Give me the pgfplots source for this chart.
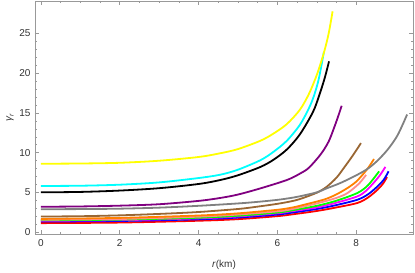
\documentclass[border=0pt]{standalone}
\usepackage{pgfplots}
\pgfplotsset{compat=1.18}
\usepackage{fontspec}
\setmainfont{Liberation Sans}
\definecolor{fr}{gray}{0.6}
\definecolor{tl}{gray}{0.2}
\definecolor{mypurple}{rgb}{0.5,0,0.5}
\definecolor{mybrown}{rgb}{0.6,0.4,0.2}
\definecolor{myorange}{rgb}{1,0.5,0}
\definecolor{mypink}{rgb}{1,0.55,0.55}
\definecolor{mygray}{gray}{0.5}
\definecolor{mycyan}{rgb}{0,1,1}
\definecolor{myyellow}{rgb}{1,1,0}
\definecolor{mygreen}{rgb}{0,1,0}
\definecolor{mymagenta}{rgb}{1,0,1}
\definecolor{myblue}{rgb}{0,0,1}
\definecolor{myred}{rgb}{1,0,0}
\begin{document}
\begin{tikzpicture}
\begin{axis}[
  at={(0pt,0pt)}, anchor=south west,
  scale only axis, width=378pt, height=233pt,
  xmin=-0.15, xmax=9.44, ymin=-0.25, ymax=29.1,
  axis line style={fr, line width=0.6pt},
  tick align=inside,
  major tick length=4pt, minor tick length=2.4pt,
  every tick/.style={fr, line width=0.5pt},
  xtick={0,2,4,6,8}, minor x tick num=3,
  ytick={0,5,10,15,20,25}, minor y tick num=4,
  /pgf/number format/assume math mode=true,
  tick label style={font=\fontsize{10}{12}\selectfont, text=tl},
  xticklabel style={yshift=-2pt},
  yticklabel style={xshift=-1pt},
  xlabel={\textit{r}(km)},
  ylabel={\textit{γ}\raisebox{-0.35ex}{\scriptsize\textit{r}}},
  label style={font=\fontsize{10}{12}\selectfont, text=tl},
  xlabel style={at={(axis description cs:0.5,-0.133)}, anchor=center},
  ylabel style={at={(axis description cs:-0.066,0.5)}, anchor=center},
  every axis plot/.append style={line width=1.8pt, smooth, no markers},
]
\addplot[myred] coordinates {(0,1.12)(2,1.19)(4,1.42)(5,1.62)(6,2.0)(6.34,2.2)(7,2.65)(7.5,3.1)(8.03,3.66)(8.3,4.35)(8.54,5.33)(8.68,6.1)(8.78,6.92)};
\addplot[myblue] coordinates {(0,1.32)(2,1.39)(4,1.6)(5,1.82)(6,2.2)(6.34,2.42)(7,2.9)(7.5,3.4)(8.03,4.07)(8.3,4.75)(8.54,5.75)(8.7,6.6)(8.82,7.64)};
\addplot[mymagenta] coordinates {(0,1.42)(2,1.49)(4,1.72)(5,1.96)(6,2.36)(6.34,2.6)(7,3.1)(7.5,3.7)(8.03,4.49)(8.25,5.2)(8.46,6.3)(8.6,7.15)(8.74,8.2)};
\addplot[mygreen] coordinates {(0,1.48)(2,1.56)(4,1.8)(5,2.05)(6,2.45)(6.34,2.7)(7,3.3)(7.5,3.95)(8.03,4.92)(8.3,5.9)(8.58,7.64)};
\addplot[mypink] coordinates {(0,1.55)(2,1.64)(4,1.93)(5,2.2)(6,2.6)(6.34,2.85)(7,3.6)(7.5,4.3)(7.78,4.92)(8.07,6.1)(8.25,7.2)};
\addplot[myorange] coordinates {(0,1.65)(2,1.78)(4,2.08)(5,2.35)(6,2.8)(6.34,3.05)(6.57,3.3)(7.19,4.1)(7.5,4.75)(7.78,5.55)(8.0,6.35)(8.2,7.44)(8.32,8.2)(8.45,9.2)};
\addplot[mybrown] coordinates {(0,1.95)(1,1.99)(2,2.1)(3,2.28)(4,2.52)(5,2.9)(5.5,3.2)(6,3.55)(6.34,3.86)(6.57,4.15)(7.0,4.95)(7.25,5.7)(7.5,6.85)(7.69,8.1)(7.9,9.55)(8.12,11.2)};
\addplot[mygray] coordinates {(0,2.87)(1,2.89)(2,2.94)(3,3.07)(4,3.3)(5,3.6)(5.5,3.8)(6,4.05)(6.34,4.29)(6.57,4.5)(7.0,5.0)(7.25,5.5)(7.61,6.2)(8.03,7.22)(8.3,8.0)(8.54,9.0)(8.8,10.4)(9.05,12.2)(9.29,14.8)};
\addplot[mypurple] coordinates {(0,3.18)(1,3.22)(2,3.32)(3,3.5)(4,3.92)(4.55,4.29)(5,4.72)(5.57,5.5)(6.24,6.55)(6.57,7.35)(6.8,8.1)(7.1,9.8)(7.3,11.4)(7.45,13.3)(7.55,14.7)(7.63,15.9)};
\addplot[black] coordinates {(0,5.00)(1,5.05)(2,5.22)(3,5.52)(4,6.05)(4.55,6.55)(5,7.15)(5.57,8.2)(5.9,9.1)(6.24,10.4)(6.57,12.3)(6.9,15.1)(7.06,17.2)(7.2,19.4)(7.31,21.5)};
\addplot[mycyan] coordinates {(0,5.80)(1,5.83)(2,5.96)(3,6.25)(4,6.8)(4.55,7.22)(5,7.85)(5.57,9.05)(5.9,10.1)(6.24,11.5)(6.57,13.5)(6.8,15.6)(6.93,17.2)(7.05,19.3)(7.18,22.7)};
\addplot[myyellow] coordinates {(0,8.60)(1,8.63)(2,8.72)(3,8.98)(4,9.45)(4.55,9.92)(5,10.45)(5.57,11.5)(5.9,12.4)(6.24,13.6)(6.57,15.4)(6.8,17.4)(7.0,19.8)(7.18,22.6)(7.3,25.0)(7.40,27.8)};
\end{axis}
\path[use as bounding box] (-35pt,-37pt) rectangle (380pt,234pt);
\end{tikzpicture}
\end{document}
